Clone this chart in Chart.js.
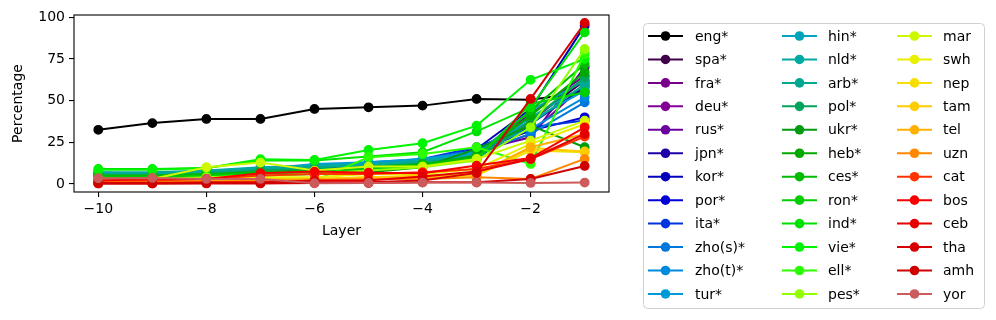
<!DOCTYPE html>
<html>
<head>
<meta charset="utf-8">
<script src="https://cdn.jsdelivr.net/npm/chart.js@4.4.1/dist/chart.umd.min.js"></script>
<style>
  html, body { margin: 0; padding: 0; background: #fff; }
  #wrap { width: 996px; height: 320px; }
</style>
</head>
<body>
<div id="wrap"><canvas id="chart" width="996" height="320"></canvas></div>
<script>
// --- Data ---
const layers = [-10, -9, -8, -7, -6, -5, -4, -3, -2, -1];
const xTicks = [-10, -8, -6, -4, -2];
const yTicks = [0, 25, 50, 75, 100];

const languages = ['eng*', 'spa*', 'fra*', 'deu*', 'rus*', 'jpn*', 'kor*', 'por*', 'ita*',
  'zho(s)*', 'zho(t)*', 'tur*', 'hin*', 'nld*', 'arb*', 'pol*', 'ukr*', 'heb*', 'ces*',
  'ron*', 'ind*', 'vie*', 'ell*', 'pes*', 'mar', 'swh', 'nep', 'tam', 'tel', 'uzn',
  'cat', 'bos', 'ceb', 'tha', 'amh', 'yor'];

const eng  = [32.5, 36.5, 39, 39, 45, 46, 47, 51, 50.5, 55];
const spa  = [4, 4, 5, 6, 8, 9, 11, 17, 38, 62];
const fra  = [5, 5, 6, 7, 9, 10, 12, 19, 42, 65];
const deu  = [4, 4, 5, 6, 8, 10, 12, 18, 30, 60];
const rus  = [5, 5, 6, 7, 10, 11, 13, 20, 28, 70];
const jpn  = [4, 4, 5, 6, 9, 10, 12, 19, 36, 58];
const kor  = [6, 5, 7, 8, 10, 11, 14, 21, 45, 95];
const por  = [5, 5, 6, 7, 9, 11, 14, 20, 32, 40];
const ita  = [6, 6, 7, 8, 10, 12, 15, 22, 34, 38];
const zhoS = [5, 5, 6, 8, 10, 12, 14, 19, 30, 49];
const zhoT = [6, 6, 7, 9, 11, 13, 15, 20, 33, 52];
const tur  = [7, 6, 8, 9, 12, 13, 15, 19, 38, 56];
const hin  = [6, 6, 7, 8, 10, 12, 14, 18, 44, 62];
const nld  = [7, 7, 8, 10, 11, 12, 14, 17, 40, 59];
const arb  = [6, 6, 7, 9, 10, 11, 13, 16, 36, 60];
const pol  = [5, 5, 6, 8, 9, 10, 12, 15, 38, 64];
const ukr  = [3, 3, 4, 5, 6, 7, 10, 21, 35, 22];
const heb  = [4, 4, 5, 6, 7, 9, 11, 17, 41, 67];
const ces  = [5, 5, 6, 7, 8, 10, 12, 16, 44, 72];
const ron  = [4, 4, 5, 6, 7, 9, 11, 15, 48, 55];
const ind  = [9, 9, 9.5, 14, 14, 16.5, 19, 31.5, 46, 91];
const vie  = [8.5, 8.5, 9.5, 14.8, 14.4, 20.4, 24.4, 35, 62.5, 75];
const ell  = [3, 2, 3, 4, 2, 16, 18, 22, 12, 78];
const pes  = [3, 3, 4, 5, 6, 8, 10, 14, 34, 81];
const mar  = [3, 3, 10, 12.8, 8, 10.4, 10.4, 15, 26, 38];
const swh  = [2, 2, 3, 4, 4, 6, 6, 9, 24, 36];
const nep  = [1, 1, 2, 3, 3, 4, 4, 5, 20, 19];
const tam  = [2, 2, 2, 3, 3, 4, 5, 6, 21.5, 19.5];
const tel  = [1, 1, 2, 2, 3, 3, 4, 6, 22, 30];
const uzn  = [1, 1, 1, 2, 2, 3, 3, 4, 3, 15];
const cat  = [2, 2, 3, 5, 6, 6, 7, 9, 15, 28.4];
const bos  = [2, 3, 3, 6.4, 7.4, 6.7, 6.4, 11, 15.5, 34];
const ceb  = [0.5, 0.5, 1, 1, 2, 2, 4.4, 7.4, 15, 30];
const tha  = [0.3, 0.3, 0.5, 0.5, 1, 1, 2, 6.6, 51, 96.6];
const amh  = [0.3, 0.3, 0.3, 0.3, 0.5, 0.5, 1, 1, 3, 10.8];
const yor  = [3.4, 3.6, 3, 3, 0.4, 0.6, 0.8, 0.8, 0.6, 0.8];

const seriesValues = [eng, spa, fra, deu, rus, jpn, kor, por, ita, zhoS, zhoT, tur, hin,
  nld, arb, pol, ukr, heb, ces, ron, ind, vie, ell, pes, mar, swh, nep, tam, tel, uzn,
  cat, bos, ceb, tha, amh, yor];

// nipy_spectral colormap stops (matplotlib)
const specR = [0, .4667, .5333, 0, 0, 0, 0, 0, 0, 0, 0, 0, 0, .7333, .9333, 1, 1, 1, .8667, .8, .8];
const specG = [0, 0, 0, 0, 0, .4667, .6, .6667, .6667, .6, .7333, .8667, 1, 1, .9333, .8, .6, 0, 0, 0, .8];
const specB = [0, .5333, .6, .6667, .8667, .8667, .8667, .6667, .5333, 0, 0, 0, 0, 0, 0, 0, 0, 0, 0, 0, .8];

function spectral(t) {
  const pos = t * 20;
  const i = Math.min(Math.floor(pos), 19);
  const f = pos - i;
  const c = arr => Math.round(255 * (arr[i] + (arr[i + 1] - arr[i]) * f));
  return `rgb(${c(specR)}, ${c(specG)}, ${c(specB)})`;
}

const FONT = { family: 'DejaVu Sans', size: 14 };
const minus = v => String(v).replace('-', '\u2212');

const datasets = languages.map((name, i) => {
  const color = spectral(i / languages.length);
  return {
    label: name,
    data: layers.map((x, j) => ({ x: x, y: seriesValues[i][j] })),
    borderColor: color,
    backgroundColor: color,
    pointBackgroundColor: color,
    pointBorderColor: color,
    borderWidth: 2,
    pointRadius: 4.2,
    pointBorderWidth: 1.4,
    tension: 0,
    order: -i   // later series drawn on top, like matplotlib
  };
});

// frame around the axes
const framePlugin = {
  id: 'frame',
  afterDraw(chart) {
    const { ctx, chartArea: a } = chart;
    ctx.save();
    ctx.strokeStyle = '#000';
    ctx.lineWidth = 1.1;
    ctx.strokeRect(a.left, a.top, a.right - a.left, a.bottom - a.top);
    ctx.restore();
  }
};

// legend outside the axes, 3 columns filled top to bottom
const legendPlugin = {
  id: 'sideLegend',
  afterDraw(chart) {
    const ctx = chart.ctx;
    const box = { x: 643.5, y: 23.5, w: 341, h: 285, r: 4 };
    ctx.save();
    ctx.beginPath();
    ctx.moveTo(box.x + box.r, box.y);
    ctx.arcTo(box.x + box.w, box.y, box.x + box.w, box.y + box.h, box.r);
    ctx.arcTo(box.x + box.w, box.y + box.h, box.x, box.y + box.h, box.r);
    ctx.arcTo(box.x, box.y + box.h, box.x, box.y, box.r);
    ctx.arcTo(box.x, box.y, box.x + box.w, box.y, box.r);
    ctx.closePath();
    ctx.fillStyle = 'rgba(255,255,255,0.8)';
    ctx.fill();
    ctx.strokeStyle = '#d0d0d0';
    ctx.lineWidth = 1;
    ctx.stroke();

    const perCol = 12;
    const lineX = [648, 782, 897];
    const textX = [695, 828, 943];
    ctx.font = `${FONT.size}px "${FONT.family}"`;
    ctx.textBaseline = 'middle';
    ctx.textAlign = 'left';
    chart.data.datasets.forEach((ds, i) => {
      const col = Math.floor(i / perCol);
      const row = i % perCol;
      const y = 36 + row * 23.45;
      const x0 = lineX[col];
      ctx.strokeStyle = ds.borderColor;
      ctx.lineWidth = 2;
      ctx.beginPath();
      ctx.moveTo(x0, y);
      ctx.lineTo(x0 + 35, y);
      ctx.stroke();
      ctx.fillStyle = ds.borderColor;
      ctx.beginPath();
      ctx.arc(x0 + 17.5, y, 4.8, 0, Math.PI * 2);
      ctx.fill();
      ctx.fillStyle = '#000';
      ctx.fillText(ds.label, textX[col], y + 1);
    });
    ctx.restore();
  }
};

new Chart(document.getElementById('chart'), {
  type: 'line',
  data: { datasets },
  options: {
    responsive: false,
    animation: false,
    events: [],
    layout: { padding: { top: 15, right: 387, bottom: 0, left: 0 } },
    plugins: { legend: { display: false }, tooltip: { enabled: false } },
    scales: {
      x: {
        type: 'linear',
        min: -10.45,
        max: -0.55,
        afterBuildTicks: s => { s.ticks = xTicks.map(v => ({ value: v })); },
        afterFit: s => { s.height = 128; },
        ticks: { callback: v => minus(v), font: FONT, color: '#000', padding: 4, maxRotation: 0, autoSkip: false },
        grid: { drawOnChartArea: false, tickLength: 5, color: '#000', lineWidth: 1.1 },
        border: { display: false },
        title: { display: true, text: 'Layer', font: FONT, color: '#000', padding: { top: 0, bottom: 80.6 } }
      },
      y: {
        min: -4.85,
        max: 101.4,
        afterBuildTicks: s => { s.ticks = yTicks.map(v => ({ value: v })); },
        afterFit: s => { s.width = 74; },
        ticks: { font: FONT, color: '#000', padding: 4 },
        grid: { drawOnChartArea: false, tickLength: 5, color: '#000', lineWidth: 1.1 },
        border: { display: false },
        title: { display: true, text: 'Percentage', font: FONT, color: '#000', padding: { top: 9.6, bottom: 0 } }
      }
    }
  },
  plugins: [framePlugin, legendPlugin]
});
</script>
</body>
</html>
